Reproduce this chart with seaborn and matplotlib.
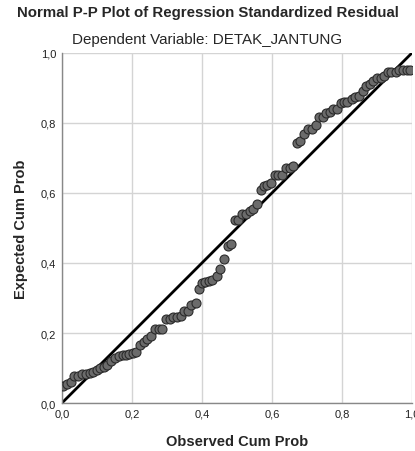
import matplotlib
matplotlib.use("Agg")
import matplotlib.pyplot as plt
import numpy as np
import pandas as pd
import seaborn as sns

# =============================================================================
# Data
# =============================================================================
observed_cum_prob = [
    0.004, 0.015, 0.025, 0.035, 0.047, 0.058, 0.068, 0.080, 0.089, 0.099,
    0.109, 0.120, 0.130, 0.140, 0.151, 0.163, 0.174, 0.183, 0.192, 0.204,
    0.213, 0.223, 0.234, 0.243, 0.254, 0.266, 0.277, 0.286, 0.297, 0.309,
    0.318, 0.329, 0.340, 0.350, 0.360, 0.370, 0.382, 0.391, 0.400, 0.410,
    0.420, 0.430, 0.442, 0.451, 0.463, 0.473, 0.484, 0.494, 0.504, 0.515,
    0.525, 0.537, 0.547, 0.556, 0.568, 0.577, 0.587, 0.597, 0.609, 0.618,
    0.628, 0.639, 0.650, 0.661, 0.670, 0.680, 0.692, 0.702, 0.713, 0.725,
    0.734, 0.745, 0.754, 0.766, 0.775, 0.785, 0.796, 0.806, 0.815, 0.828,
    0.837, 0.848, 0.859, 0.869, 0.879, 0.889, 0.899, 0.910, 0.920, 0.932,
    0.941, 0.953, 0.963, 0.973, 0.985, 0.994,
]
expected_cum_prob = [
    0.049, 0.054, 0.061, 0.076, 0.078, 0.083, 0.083, 0.085, 0.088, 0.094,
    0.100, 0.104, 0.109, 0.121, 0.130, 0.135, 0.137, 0.137, 0.140, 0.143,
    0.145, 0.166, 0.175, 0.183, 0.192, 0.211, 0.211, 0.211, 0.240, 0.240,
    0.245, 0.247, 0.250, 0.264, 0.264, 0.280, 0.285, 0.326, 0.342, 0.345,
    0.348, 0.352, 0.364, 0.383, 0.411, 0.449, 0.455, 0.524, 0.524, 0.540,
    0.540, 0.549, 0.554, 0.569, 0.607, 0.621, 0.623, 0.628, 0.650, 0.650,
    0.650, 0.671, 0.672, 0.676, 0.742, 0.747, 0.769, 0.783, 0.783, 0.794,
    0.816, 0.817, 0.829, 0.832, 0.840, 0.840, 0.857, 0.859, 0.859, 0.868,
    0.874, 0.876, 0.892, 0.905, 0.910, 0.919, 0.927, 0.928, 0.935, 0.945,
    0.946, 0.946, 0.950, 0.950, 0.950, 0.950,
]
diagonal = [0.0, 1.0]
tick_values = [0.0, 0.2, 0.4, 0.6, 0.8, 1.0]
tick_labels = ["0,0", "0,2", "0,4", "0,6", "0,8", "1,0"]

df = pd.DataFrame({"observed": observed_cum_prob, "expected": expected_cum_prob})

# =============================================================================
# Plot
# =============================================================================
sns.set_style("white")
plt.rcParams["font.family"] = ["Liberation Sans", "DejaVu Sans"]

fig = plt.figure(figsize=(4.15, 4.52), dpi=100)
ax = fig.add_axes([0.149, 0.106, 0.844, 0.775])

ax.grid(True, color="#d4d4d4", linewidth=1.0)
ax.set_axisbelow(True)

ax.plot(diagonal, diagonal, color="black", linewidth=2.0, zorder=2)
sns.scatterplot(
    data=df, x="observed", y="expected", ax=ax,
    s=42, color="#6b6b6b", edgecolor="#2b2b2b", linewidth=0.8, zorder=3,
)

ax.set_xlim(0, 1)
ax.set_ylim(0, 1)
ax.set_xticks(tick_values)
ax.set_xticklabels(tick_labels)
ax.set_yticks(tick_values)
ax.set_yticklabels(tick_labels)
ax.tick_params(axis="both", labelsize=8, length=0, labelcolor="#222222", pad=4)

for side in ["top", "right"]:
    ax.spines[side].set_visible(False)
for side in ["left", "bottom"]:
    ax.spines[side].set_color("#888888")
    ax.spines[side].set_linewidth(1.0)

ax.set_xlabel("Observed Cum Prob", fontsize=10.5, fontweight="bold", labelpad=11)
ax.set_ylabel("Expected Cum Prob", fontsize=10.5, fontweight="bold", labelpad=9)

fig.text(0.5, 0.971, "Normal P-P Plot of Regression Standardized Residual",
         ha="center", va="center", fontsize=10.8, fontweight="bold")
fig.text(0.5, 0.912, "Dependent Variable: DETAK_JANTUNG",
         ha="center", va="center", fontsize=10.9)

fig.savefig("out.png", dpi=100)
plt.close(fig)
